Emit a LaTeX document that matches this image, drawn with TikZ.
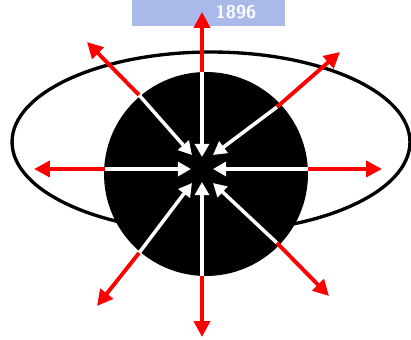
\documentclass[tikz,border=0pt]{standalone}
\usepackage{fontspec}
\usepackage{tikz}
\usetikzlibrary{arrows.meta}
\definecolor{seallight}{RGB}{168,185,234}

\begin{document}
\begin{tikzpicture}[x=0.02cm,y=-0.02cm,
    inarrow/.style={white,line width=2pt,-{Triangle[length=7.5pt,width=8pt]}},
    outarrow/.style={red,line width=2.2pt,-{Triangle[length=9pt,width=9pt]}}]
    \useasboundingbox (0,0) rectangle (411,340);
    \fill[seallight] (132,0) rectangle (285,26);
    \node[text=white,font=\sffamily\bfseries\fontsize{10.5}{10.5}\selectfont\addfontfeature{LetterSpace=45}] (seal) at (236,12) {1896};
    \draw[line width=1.9pt] (211,142) ellipse [x radius=3.98cm,y radius=1.8cm];
    \fill (206,174) circle [radius=2.04cm];
    \coordinate (n) at (202,72);
    \coordinate (s) at (202,276);
    \coordinate (w) at (105,169);
    \coordinate (e) at (308,169);
    \coordinate (nw) at (139,95);
    \coordinate (ne) at (277,107);
    \coordinate (sw) at (139,253);
    \coordinate (se) at (277,243);
    \coordinate (n in) at (202,157);
    \coordinate (s in) at (202,182);
    \coordinate (w in) at (191,169);
    \coordinate (e in) at (213,169);
    \coordinate (nw in) at (192,155);
    \coordinate (ne in) at (213,155);
    \coordinate (sw in) at (192,183);
    \coordinate (se in) at (213,183);
    \coordinate (n out) at (202,12);
    \coordinate (s out) at (202,337);
    \coordinate (w out) at (34,169);
    \coordinate (e out) at (382,169);
    \coordinate (nw out) at (87,42);
    \coordinate (ne out) at (340,52);
    \coordinate (sw out) at (97,306);
    \coordinate (se out) at (329,296);
    \draw[inarrow] (n) -- (n in);
    \draw[inarrow] (s) -- (s in);
    \draw[inarrow] (w) -- (w in);
    \draw[inarrow] (e) -- (e in);
    \draw[inarrow] (nw) -- (nw in);
    \draw[inarrow] (ne) -- (ne in);
    \draw[inarrow] (sw) -- (sw in);
    \draw[inarrow] (se) -- (se in);
    \draw[outarrow] (n) -- (n out);
    \draw[outarrow] (s) -- (s out);
    \draw[outarrow] (w) -- (w out);
    \draw[outarrow] (e) -- (e out);
    \draw[outarrow] (nw) -- (nw out);
    \draw[outarrow] (ne) -- (ne out);
    \draw[outarrow] (sw) -- (sw out);
    \draw[outarrow] (se) -- (se out);
\end{tikzpicture}
\end{document}
